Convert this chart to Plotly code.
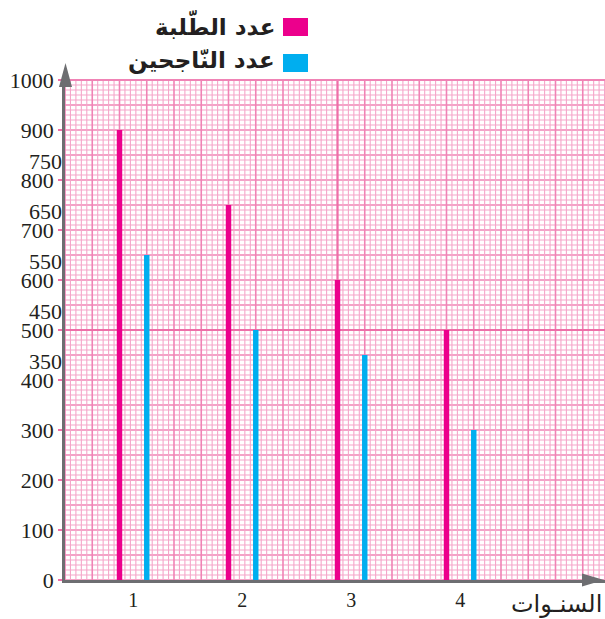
import numpy as np
import plotly.graph_objects as go

# Data
years = [1, 2, 3, 4]
students = [900, 750, 600, 500]      # عدد الطّلبة
passed = [650, 500, 450, 300]        # عدد النّاجحين
y_ticks = [0, 100, 200, 300, 400, 500, 600, 700, 800, 900, 1000]
extra_labels = [750, 650, 550, 450, 350]

PINK = "#ec008c"
BLUE = "#00aeef"
AXIS = "#6d6e71"
FINE = "#f5a6c9"
MEDIUM = "#f083b5"
STRONG = "#ee6fa8"

W, H = 605, 619
L, R, T, B = 65, 0, 80, 39
PW, PH = W - L - R, H - T - B

X0 = 0.375
X1 = X0 + PW / 109.0


def px(x):
    return (x - L) / PW


def py(y):
    return (H - B - y) / PH


fig = go.Figure()
fig.add_trace(go.Bar(x=years, y=students, width=0.05, offset=-0.15,
                     marker=dict(color=PINK, line=dict(width=0)),
                     name="عدد الطّلبة", showlegend=False))
fig.add_trace(go.Bar(x=years, y=passed, width=0.05, offset=0.10,
                     marker=dict(color=BLUE, line=dict(width=0)),
                     name="عدد النّاجحين", showlegend=False))

shapes = []
# graph-paper grid: fine lines and heavier lines every fifth
for i, yv in enumerate(np.arange(0, 1000.1, 10)):
    heavy = i % 5 == 0
    shapes.append(dict(type="line", xref="paper", yref="y", x0=0, x1=1, y0=yv, y1=yv,
                       line=dict(color=MEDIUM if heavy else FINE, width=1.6 if heavy else 1.1),
                       layer="below"))
for i, xv in enumerate(np.arange(X0, X1 + 1e-9, 0.05)):
    heavy = i % 5 == 0
    shapes.append(dict(type="line", xref="x", yref="paper", x0=xv, x1=xv, y0=0, y1=1,
                       line=dict(color=MEDIUM if heavy else FINE, width=1.6 if heavy else 1.1),
                       layer="below"))
# emphasised lines
shapes.append(dict(type="line", xref="paper", yref="y", x0=px(61), x1=1, y0=500, y1=500,
                   line=dict(color=STRONG, width=2.2), layer="below"))
shapes.append(dict(type="line", xref="x", yref="paper", x0=2.875, x1=2.875, y0=0, y1=1,
                   line=dict(color=STRONG, width=2), layer="below"))
shapes.append(dict(type="line", xref="paper", yref="paper", x0=0, x1=1, y0=1, y1=1,
                   line=dict(color=MEDIUM, width=2.2), layer="below"))

# axis arrowheads
shapes.append(dict(type="path", xref="paper", yref="paper",
                   path=f"M {px(65.5)} {py(63)} L {px(59)} {py(87)} L {px(72)} {py(87)} Z",
                   fillcolor=AXIS, line=dict(width=0)))
shapes.append(dict(type="path", xref="paper", yref="paper",
                   path=f"M {px(604)} {py(580)} L {px(582)} {py(573.5)} L {px(582)} {py(586.5)} Z",
                   fillcolor=AXIS, line=dict(width=0)))

# legend swatches
shapes.append(dict(type="rect", xref="paper", yref="paper", x0=px(283), x1=px(308),
                   y0=py(36), y1=py(18), fillcolor=PINK, line=dict(width=0)))
shapes.append(dict(type="rect", xref="paper", yref="paper", x0=px(283), x1=px(308),
                   y0=py(72), y1=py(54), fillcolor=BLUE, line=dict(width=0)))

annotations = []
ar_font = dict(family="DejaVu Sans", size=23, color="#231f20", weight="bold")
annotations.append(dict(text="عدد الطّلبة", xref="paper", yref="paper", x=px(277), y=py(25),
                        xanchor="right", yanchor="middle", showarrow=False, font=ar_font))
annotations.append(dict(text="عدد النّاجحين", xref="paper", yref="paper", x=px(277), y=py(61),
                        xanchor="right", yanchor="middle", showarrow=False, font=ar_font))
annotations.append(dict(text="السنـوات", xref="paper", yref="paper", x=px(604), y=py(604),
                        xanchor="right", yanchor="middle", showarrow=False,
                        font=dict(family="DejaVu Sans", size=24, color="#231f20")))

num_font = dict(family="Liberation Serif", size=22, color="#231f20")
for lab in extra_labels:
    annotations.append(dict(text=str(lab), xref="paper", yref="y", x=px(64), y=lab + 50 + 38,
                            xanchor="right", yanchor="middle", showarrow=False, font=num_font))

fig.update_layout(
    width=W, height=H,
    margin=dict(l=L, r=R, t=T, b=B),
    paper_bgcolor="white", plot_bgcolor="white",
    barmode="overlay",
    shapes=shapes, annotations=annotations,
    xaxis=dict(range=[X0, X1], tickmode="array", tickvals=years,
               ticktext=[str(v) for v in years], showgrid=False, zeroline=False,
               showline=True, linecolor=AXIS, linewidth=2.5, ticks="",
               tickfont=dict(family="Liberation Serif", size=20, color="#231f20")),
    yaxis=dict(range=[0, 1000], tickmode="array", tickvals=y_ticks,
               ticktext=[str(v) for v in y_ticks], showgrid=False, zeroline=False,
               showline=True, linecolor=AXIS, linewidth=2.5,
               ticks="outside", ticklen=4, tickcolor=STRONG, tickwidth=1.5,
               tickfont=num_font),
)

fig.write_html("out.html")
